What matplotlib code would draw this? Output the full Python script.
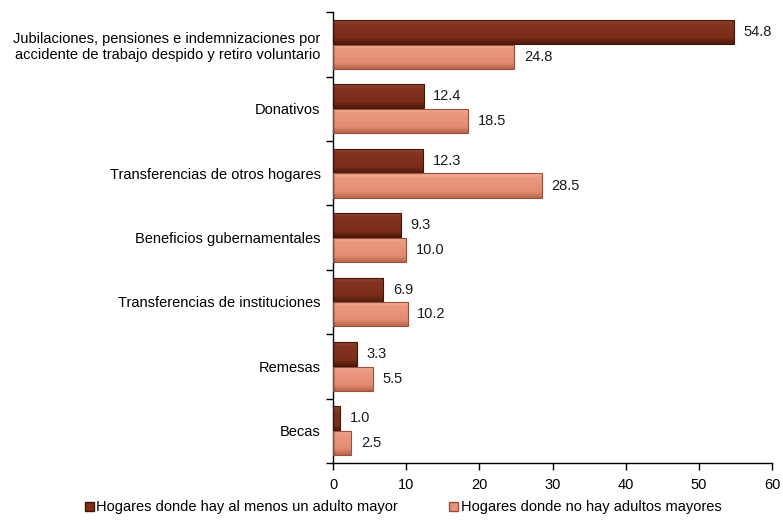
import matplotlib
matplotlib.use("Agg")
import matplotlib.pyplot as plt
import numpy as np
from matplotlib.patches import Patch
from matplotlib.colors import LinearSegmentedColormap

categories = [
    "Jubilaciones, pensiones e indemnizaciones por\naccidente de trabajo despido y retiro voluntario",
    "Donativos",
    "Transferencias de otros hogares",
    "Beneficios gubernamentales",
    "Transferencias de instituciones",
    "Remesas",
    "Becas",
]
con_adultos = [54.8, 12.4, 12.3, 9.3, 6.9, 3.3, 1.0]
sin_adultos = [24.8, 18.5, 28.5, 10.0, 10.2, 5.5, 2.5]
series_names = ["Hogares donde hay al menos un adulto mayor",
                "Hogares donde no hay adultos mayores"]
xticks = [0, 10, 20, 30, 40, 50, 60]

plt.rcParams['font.family'] = ['Liberation Sans', 'DejaVu Sans']

dark = "#7d2f19"
dark_edge = "#3f150a"
light = "#e8937a"
light_edge = "#9c5039"
cmap_dark = LinearSegmentedColormap.from_list(
    "d", [(0, "#9a4a30"), (0.2, "#833420"), (0.75, "#7a2d18"), (1, "#4f1a0c")])
cmap_light = LinearSegmentedColormap.from_list(
    "l", [(0, "#f3b19b"), (0.2, "#ea9880"), (0.75, "#e48c72"), (1, "#b8654b")])

fig = plt.figure(figsize=(7.83, 5.25), dpi=100)
ax = fig.add_axes([0.4253, 0.118, 0.5607, 0.859])

n = len(categories)
centers = np.arange(n)
h = 0.375
y_dark = centers - h / 2 - 0.005
y_light = centers + h / 2 + 0.005

bars_d = ax.barh(y_dark, con_adultos, height=h, color=dark, edgecolor=dark_edge, linewidth=0.8, zorder=2)
bars_l = ax.barh(y_light, sin_adultos, height=h, color=light, edgecolor=light_edge, linewidth=0.8, zorder=2)

grad = np.linspace(0, 1, 64).reshape(-1, 1)
for bars, cm in ((bars_d, cmap_dark), (bars_l, cmap_light)):
    for p in bars:
        x0, y0 = p.get_x(), p.get_y()
        w, hh = p.get_width(), p.get_height()
        im = ax.imshow(grad, extent=[x0, x0 + w, y0 + hh, y0], aspect="auto",
                       cmap=cm, origin="upper", zorder=2.5, interpolation="bilinear")
        im.set_clip_path(p)
    for p in bars:
        p.set_facecolor("none")
        p.set_zorder(3)

for y, v in zip(y_dark, con_adultos):
    ax.text(v + 1.3, y, f"{v:.1f}", va="center", ha="left", fontsize=10.5, color="#1a1a1a")
for y, v in zip(y_light, sin_adultos):
    ax.text(v + 1.3, y, f"{v:.1f}", va="center", ha="left", fontsize=10.5, color="#1a1a1a")

ax.set_ylim(n - 0.5, -0.5)
ax.set_xlim(0, 60)
ax.set_xticks(xticks)
ax.set_xticklabels([str(t) for t in xticks], fontsize=10.5)

ax.set_yticks(np.arange(n + 1) - 0.5)
ax.set_yticklabels([])
ax.set_yticks(centers, minor=True)
ax.set_yticklabels(categories, minor=True, fontsize=10.5, ha="right")
ax.tick_params(axis="y", which="minor", length=0, pad=9)
ax.tick_params(axis="y", which="major", length=5, direction="out", width=1)
ax.tick_params(axis="x", length=5, direction="out", width=1, pad=6)

for s in ["top", "right"]:
    ax.spines[s].set_visible(False)
ax.spines["left"].set_linewidth(1.0)
ax.spines["bottom"].set_linewidth(1.0)

handles = [Patch(facecolor=dark, edgecolor=dark_edge), Patch(facecolor=light, edgecolor=light_edge)]
fig.legend(handles, series_names, loc="lower center", bbox_to_anchor=(0.515, -0.005), ncol=2,
           frameon=False, fontsize=10.5, handlelength=0.6, handleheight=0.6, handletextpad=0.2,
           columnspacing=3.5)

fig.savefig("out.png", dpi=100)
